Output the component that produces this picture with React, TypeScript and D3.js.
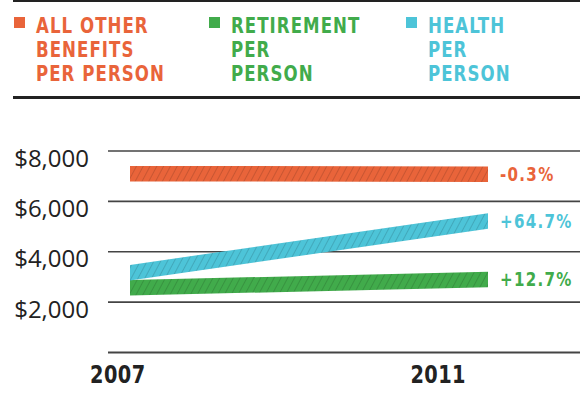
import { useEffect, useRef } from "react";
import * as d3 from "d3";

// chart data
const years = [2007, 2011];
const seriesNames = ["ALL OTHER|BENEFITS|PER PERSON", "RETIREMENT|PER|PERSON", "HEALTH|PER|PERSON"];
const seriesColors = ["#e9643a", "#41ab4b", "#4dc4d8"];
const otherValues = [7100, 7080];
const retirementValues = [2570, 2900];
const healthValues = [3170, 5220];
const changeLabels = ["-0.3%", "+12.7%", "+64.7%"];
const yTicks = [2000, 4000, 6000, 8000];

const W = 580;
const H = 417;
const condensed = "'DejaVu Sans Condensed', 'DejaVu Sans', sans-serif";
const squeeze = 0.86; // horizontal squeeze to mimic the DIN-like condensed face

export default function App() {
  const svgRef = useRef<SVGSVGElement>(null);

  useEffect(() => {
    const svg = d3.select(svgRef.current);
    svg.selectAll("*").remove();

    const x = d3.scaleLinear().domain([2007, 2011]).range([130, 488]);
    const y = d3.scaleLinear().domain([0, 8000]).range([352.5, 151]);
    const band = 15.5;

    // condensed bold label helper: positioned at (px, py), squeezed horizontally
    const boldText = (px: number, py: number, size: number, fill: string, txt: string, anchor = "start", spacing = 1.5) =>
      svg.append("g").attr("transform", `translate(${px},${py}) scale(${squeeze},1)`)
        .append("text")
        .attr("text-anchor", anchor)
        .attr("fill", fill)
        .style("font-family", condensed).style("font-weight", "bold")
        .style("font-size", size + "px").style("letter-spacing", spacing + "px")
        .text(txt);

    // hatch patterns
    const defs = svg.append("defs");
    seriesColors.forEach((c, i) => {
      const p = defs.append("pattern")
        .attr("id", "hatch" + i)
        .attr("patternUnits", "userSpaceOnUse")
        .attr("width", 6).attr("height", 6)
        .attr("patternTransform", "rotate(28)");
      p.append("rect").attr("width", 6).attr("height", 6).attr("fill", c);
      p.append("line").attr("x1", 0).attr("y1", 0).attr("x2", 0).attr("y2", 6)
        .attr("stroke", "#000").attr("stroke-opacity", 0.28).attr("stroke-width", 1);
    });

    // top rules
    svg.append("line").attr("x1", 13).attr("x2", W).attr("y1", 1).attr("y2", 1)
      .attr("stroke", "#222").attr("stroke-width", 2);
    svg.append("line").attr("x1", 13).attr("x2", W).attr("y1", 97.5).attr("y2", 97.5)
      .attr("stroke", "#222").attr("stroke-width", 3);

    // legend
    const legendX = [14, 209, 406];
    seriesNames.forEach((name, i) => {
      svg.append("rect").attr("x", legendX[i]).attr("y", 17).attr("width", 11).attr("height", 11)
        .attr("fill", seriesColors[i]);
      name.split("|").forEach((line, j) => {
        boldText(legendX[i] + 22, 32.5 + j * 24, 21.5, seriesColors[i], line, "start", 1.2);
      });
    });

    // gridlines
    svg.append("g").selectAll("line").data([0, ...yTicks]).join("line")
      .attr("x1", 108).attr("x2", W)
      .attr("y1", d => y(d)).attr("y2", d => y(d))
      .attr("stroke", "#444").attr("stroke-width", d => (d === 0 ? 2 : 1.6));

    // y labels
    svg.append("g").selectAll("text").data(yTicks).join("text")
      .attr("x", 89).attr("y", d => y(d) + 15.5)
      .attr("text-anchor", "end")
      .attr("fill", "#222")
      .style("font-family", "'Open Sans', sans-serif")
      .style("font-size", "24px")
      .text(d => "$" + d3.format(",")(d));

    // bands
    const area = d3.area<[number, number]>()
      .x(d => x(d[0]))
      .y0(d => y(d[1]) + band / 2)
      .y1(d => y(d[1]) - band / 2);

    const series = [otherValues, retirementValues, healthValues];
    series.forEach((vals, i) => {
      const pts = years.map((yr, k) => [yr, vals[k]] as [number, number]);
      svg.append("path").attr("d", area(pts)).attr("fill", `url(#hatch${i})`);
      boldText(x(2011) + 12, y(vals[1]) + 7, 19.5, seriesColors[i], changeLabels[i], "start", 1.5);
    });

    // x labels
    boldText(x(2007) - 40, 383, 25, "#222", String(years[0]), "start", 0.5);
    boldText(x(2011) - 22, 383, 25, "#222", String(years[1]), "end", 0.5);
  }, []);

  return (
    <svg ref={svgRef} width={W} height={H}
      style={{ position: "absolute", left: 0, top: 0, background: "#fff" }} />
  );
}
